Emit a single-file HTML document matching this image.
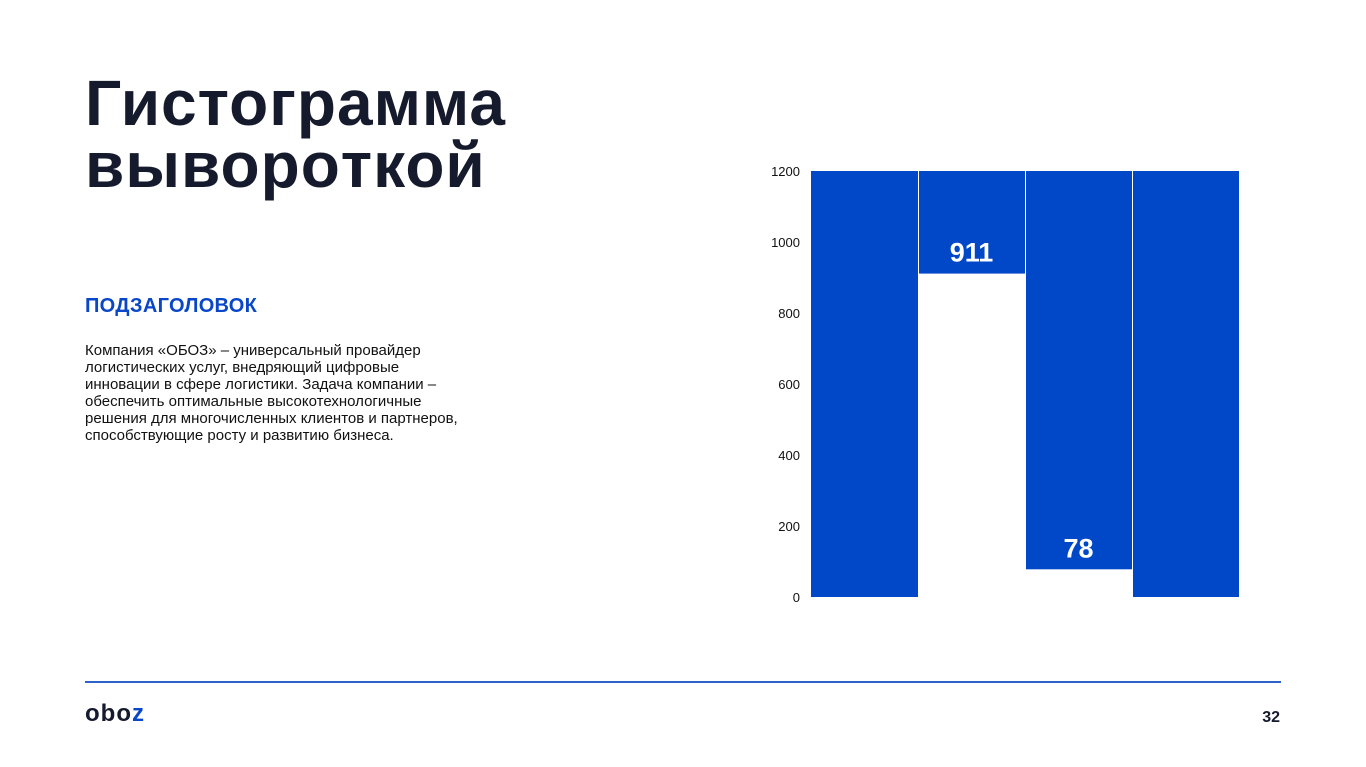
<!DOCTYPE html>
<html><head><meta charset="utf-8"><style>
body{margin:0;width:1366px;height:767px;background:#fff;position:relative;overflow:hidden;font-family:"Liberation Sans",sans-serif}
.t{position:absolute;left:85px;top:72px;font-size:64px;font-weight:bold;line-height:62px;color:#151a2d;letter-spacing:1px}
.s{position:absolute;left:85px;top:295px;font-size:20px;font-weight:bold;color:#0a47c8;letter-spacing:0.3px}
.p{position:absolute;left:85px;top:342px;font-size:15px;line-height:17px;color:#111;white-space:nowrap}
.ln{position:absolute;left:85px;top:681px;width:1196px;height:2px;background:#2c62c9}
.pg{position:absolute;left:1250px;top:709px;width:30px;text-align:right;font-size:16px;font-weight:bold;color:#151a2d}
.logo{position:absolute;left:85px;top:700px;font-size:24px;font-weight:bold;color:#151a2d;letter-spacing:1px}
</style></head><body>
<div class="t">Гистограмма<br>выворoткой</div>
<div class="s">ПОДЗАГОЛОВОК</div>
<div class="p">Компания «ОБОЗ» – универсальный провайдер<br>логистических услуг, внедряющий цифровые<br>инновации в сфере логистики. Задача компании –<br>обеспечить оптимальные высокотехнологичные<br>решения для многочисленных клиентов и партнеров,<br>способствующие росту и развитию бизнеса.</div>
<svg style="position:absolute;left:0;top:0" width="1366" height="767" id="ch"></svg>
<div class="ln"></div>
<div class="logo">obo<span style="color:#0a47c8">z</span></div>
<div class="pg">32</div>
<script>
const categories=["A","B","C","D"];
const values=[0,911,78,0];
const labels=["","911","78",""];
const ticks=[0,200,400,600,800,1000,1200];
const yMax=1200;
const svg=document.getElementById('ch');
const NS='http://www.w3.org/2000/svg';
const y=v=>597-v/yMax*426;
const x0=811,bw=(1239-811)/categories.length;
const x=i=>x0+i*bw;
ticks.forEach(t=>{const e=document.createElementNS(NS,'text');
e.setAttribute('x',800);e.setAttribute('y',y(t)+5);e.setAttribute('text-anchor','end');
e.setAttribute('font-size','13');e.setAttribute('font-family','Liberation Sans, sans-serif');e.setAttribute('fill','#111');
e.textContent=t;


svg.appendChild(e);});
categories.forEach((c,i)=>{const r=document.createElementNS(NS,'rect');
r.setAttribute('x',x(i)+(i?1:0));r.setAttribute('width',bw-(i?1:0));
r.setAttribute('y',y(yMax));r.setAttribute('height',y(values[i])-y(yMax));r.setAttribute('fill','#0048c8');


svg.appendChild(r);
if(labels[i]){const t=document.createElementNS(NS,'text');
t.setAttribute('x',x(i)+bw/2);t.setAttribute('y',y(values[i])-12);t.setAttribute('text-anchor','middle');
t.setAttribute('font-size','27');t.setAttribute('font-weight','bold');t.setAttribute('fill','#fff');t.setAttribute('font-family','Liberation Sans, sans-serif');
t.textContent=labels[i];


svg.appendChild(t);}});
</script>
</body></html>
